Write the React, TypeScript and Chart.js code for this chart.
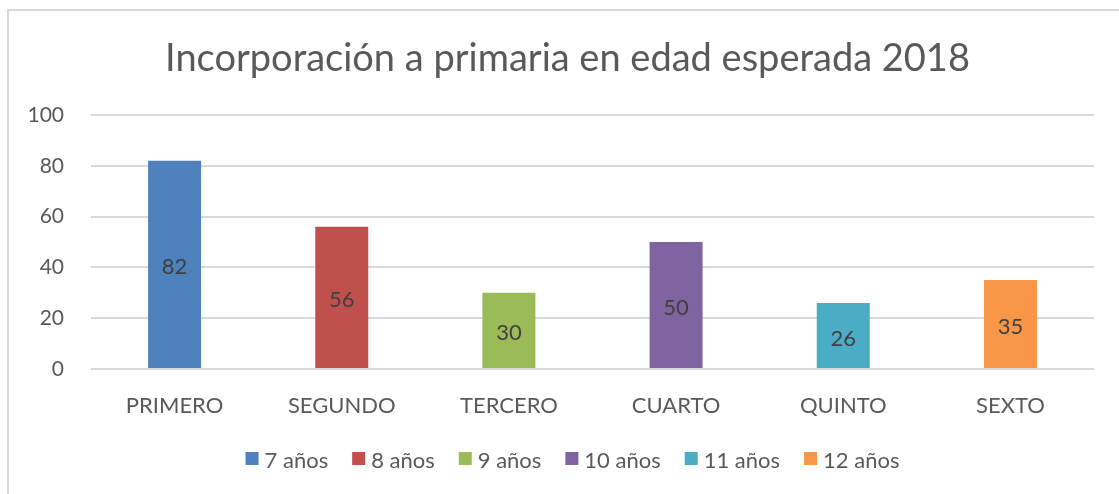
import React, { useEffect, useRef } from "react";
import { Chart, registerables } from "chart.js";

Chart.register(...registerables);

const chartTitle = "Incorporación a primaria en edad esperada 2018";
const categories = ["PRIMERO", "SEGUNDO", "TERCERO", "CUARTO", "QUINTO", "SEXTO"];
const seriesNames = ["7 años", "8 años", "9 años", "10 años", "11 años", "12 años"];
const seriesValues = [82, 56, 30, 50, 26, 35];
const seriesColors = ["#4F81BD", "#C0504D", "#9BBB59", "#8064A2", "#4BACC6", "#F79646"];
const yMin = 0;
const yMax = 100;
const yStep = 20;

const FONT = "Lato, 'Open Sans', sans-serif";
const TEXT = "#595959";

const decorPlugin = {
  id: "excelDecor",
  afterDatasetsDraw(chart: any) {
    const ctx = chart.ctx;
    ctx.save();
    ctx.font = `22px ${FONT}`;
    ctx.fillStyle = "#404040";
    ctx.textAlign = "center";
    ctx.textBaseline = "middle";
    chart.data.datasets.forEach((ds: any, di: number) => {
      const meta = chart.getDatasetMeta(di);
      meta.data.forEach((bar: any, i: number) => {
        const v = ds.data[i];
        if (v === null || v === undefined) return;
        const cy = (bar.y + bar.base) / 2;
        ctx.fillText(String(v), bar.x, cy + 3);
      });
    });
    ctx.restore();
  },
  afterDraw(chart: any) {
    const ctx = chart.ctx;
    ctx.save();
    // title
    ctx.font = `38px ${FONT}`;
    ctx.fillStyle = TEXT;
    ctx.textAlign = "center";
    ctx.textBaseline = "alphabetic";
    ctx.fillText(chartTitle, 567.5, 71);

    // legend
    ctx.font = `22px ${FONT}`;
    const box = 13;
    const gap = 6;
    const spacing = 24;
    const items = chart.data.datasets.map((ds: any) => ({
      label: ds.label,
      color: ds.backgroundColor,
      w: ctx.measureText(ds.label).width,
    }));
    const total =
      items.reduce((s: number, it: any) => s + box + gap + it.w, 0) + spacing * (items.length - 1);
    let x = 572.5 - total / 2;
    ctx.textAlign = "left";
    items.forEach((it: any) => {
      ctx.fillStyle = it.color;
      ctx.fillRect(x, 452, box, box);
      ctx.fillStyle = TEXT;
      ctx.fillText(it.label, x + box + gap, 468);
      x += box + gap + it.w + spacing;
    });
    ctx.restore();
  },
};

export default function App() {
  const canvasRef = useRef<HTMLCanvasElement | null>(null);

  useEffect(() => {
    let chart: Chart | null = null;
    let cancelled = false;
    const build = () => {
      if (cancelled || !canvasRef.current) return;
      chart = new Chart(canvasRef.current, {
        type: "bar",
        data: {
          labels: categories,
          datasets: seriesNames.map((name, i) => ({
            label: name,
            data: categories.map((_, j) => (j === i ? seriesValues[i] : null)),
            backgroundColor: seriesColors[i],
            borderWidth: 0,
            grouped: false,
            categoryPercentage: 1,
            barPercentage: 0.317,
          })),
        },
        options: {
          animation: false,
          responsive: false,
          maintainAspectRatio: false,
          layout: { padding: { left: 0, right: 25, top: 115, bottom: 65 } },
          plugins: {
            legend: { display: false },
            title: { display: false },
            tooltip: { enabled: false },
          },
          scales: {
            x: {
              grid: { display: false, drawTicks: false },
              border: { display: false },
              ticks: {
                color: TEXT,
                font: { family: FONT, size: 22 },
                padding: 24,
                maxRotation: 0,
                autoSkip: false,
              },
              afterFit: (s: any) => {
                s.height = 60;
              },
            },
            y: {
              min: yMin,
              max: yMax,
              grid: { color: "#D9D9D9", lineWidth: 2, drawTicks: false },
              border: { display: false },
              ticks: {
                stepSize: yStep,
                color: TEXT,
                font: { family: FONT, size: 21 },
                padding: 27,
              },
              afterFit: (s: any) => {
                s.width = 91;
              },
            },
          },
        },
        plugins: [decorPlugin],
      });
    };
    const fonts: any = (document as any).fonts;
    if (fonts && fonts.load) {
      Promise.all([fonts.load(`20px Lato`), fonts.load(`38px Lato`)]).then(build, build);
    } else {
      build();
    }
    return () => {
      cancelled = true;
      if (chart) chart.destroy();
    };
  }, []);

  return (
    <div
      style={{
        position: "fixed",
        left: 0,
        top: 0,
        width: 1119,
        height: 494,
        overflow: "hidden",
        background: "#fff",
      }}
    >
      <div
        style={{
          position: "absolute",
          left: 7,
          top: 9,
          width: 1200,
          height: 600,
          borderLeft: "2px solid #D9D9D9",
          borderTop: "2px solid #D9D9D9",
        }}
      />
      <canvas
        ref={canvasRef}
        width={1119}
        height={494}
        style={{ position: "absolute", left: 0, top: 0, width: 1119, height: 494 }}
      />
    </div>
  );
}
